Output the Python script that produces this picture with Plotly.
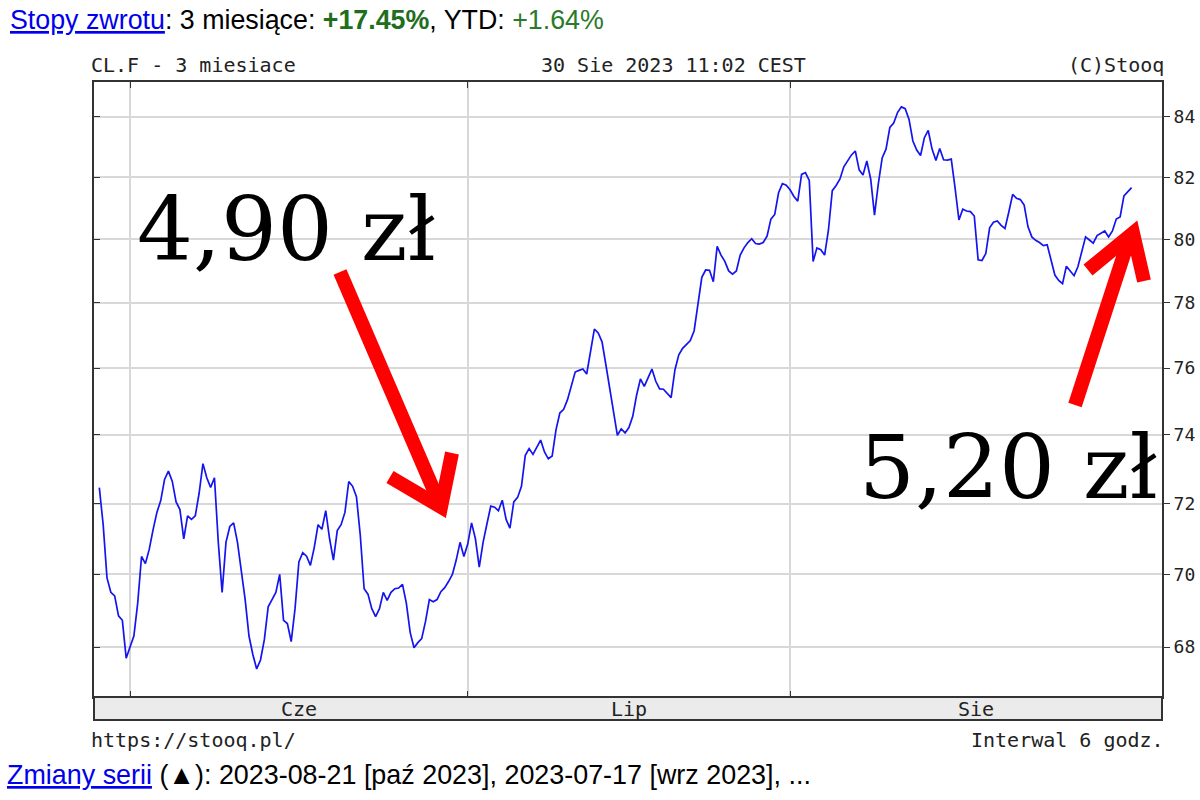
import math
import pandas as pd
import plotly.graph_objects as go

# ---------------- data (CL.F, 6-hour interval) ----------------
may_days = ["2023-05-30", "2023-05-31"]
may_vals = [
    [72.46, 71.4, 69.9, 69.5],
    [69.4, 68.85, 68.73, 67.7],
]
june_days = ["2023-06-01", "2023-06-02", "2023-06-05", "2023-06-06", "2023-06-07",
             "2023-06-08", "2023-06-09", "2023-06-12", "2023-06-13", "2023-06-14",
             "2023-06-15", "2023-06-16", "2023-06-19", "2023-06-20", "2023-06-21",
             "2023-06-22", "2023-06-23", "2023-06-26", "2023-06-27", "2023-06-28",
             "2023-06-29", "2023-06-30"]
june_vals = [
    [68.0, 68.3, 69.2, 70.5],
    [70.3, 70.7, 71.25, 71.75],
    [72.09, 72.7, 72.94, 72.65],
    [72.05, 71.83, 71.0, 71.65],
    [71.55, 71.65, 72.3, 73.16],
    [72.75, 72.47, 72.75, 70.9],
    [69.5, 70.9, 71.35, 71.45],
    [70.9, 70.1, 69.3, 68.3],
    [67.8, 67.41, 67.65, 68.2],
    [69.1, 69.3, 69.5, 70.0],
    [68.73, 68.64, 68.15, 69.05],
    [70.35, 70.61, 70.51, 70.25],
    [70.75, 71.4, 71.27, 71.8],
    [71.0, 70.4, 71.23, 71.4],
    [71.75, 72.64, 72.5, 72.2],
    [71.1, 69.6, 69.45, 69.05],
    [68.83, 69.05, 69.5, 69.28],
    [69.5, 69.6, 69.62, 69.72],
    [69.2, 68.4, 67.98, 68.12],
    [68.23, 68.7, 69.3, 69.24],
    [69.3, 69.52, 69.63, 69.8],
    [70.0, 70.4, 70.9, 70.5],
]
july_days = ["2023-07-03", "2023-07-04", "2023-07-05", "2023-07-06", "2023-07-07",
             "2023-07-10", "2023-07-11", "2023-07-12", "2023-07-13", "2023-07-14",
             "2023-07-17", "2023-07-18", "2023-07-19", "2023-07-20", "2023-07-21",
             "2023-07-24", "2023-07-25", "2023-07-26", "2023-07-27", "2023-07-28",
             "2023-07-31"]
july_vals = [
    [70.85, 71.45, 71.0, 70.2],
    [70.9, 71.42, 71.93, 71.9],
    [71.8, 72.1, 71.55, 71.3],
    [72.05, 72.18, 72.5, 73.4],
    [73.6, 73.43, 73.62, 73.85],
    [73.5, 73.3, 73.38, 74.15],
    [74.65, 74.76, 75.05, 75.45],
    [75.88, 75.93, 75.97, 75.82],
    [76.55, 77.19, 77.07, 76.8],
    [76.1, 75.38, 74.67, 73.99],
    [74.18, 74.06, 74.22, 74.55],
    [75.18, 75.67, 75.45, 75.7],
    [75.97, 75.6, 75.37, 75.36],
    [75.25, 75.11, 75.95, 76.4],
    [76.6, 76.72, 76.84, 77.14],
    [77.95, 78.8, 79.03, 79.02],
    [78.66, 79.78, 79.5, 79.3],
    [79.0, 78.9, 79.0, 79.5],
    [79.73, 79.9, 80.02, 79.87],
    [79.85, 79.9, 80.1, 80.65],
    [80.8, 81.5, 81.8, 81.75],
]
aug_days = ["2023-08-01", "2023-08-02", "2023-08-03", "2023-08-04", "2023-08-07",
            "2023-08-08", "2023-08-09", "2023-08-10", "2023-08-11", "2023-08-14",
            "2023-08-15", "2023-08-16", "2023-08-17", "2023-08-18", "2023-08-21",
            "2023-08-22", "2023-08-23", "2023-08-24", "2023-08-25", "2023-08-28",
            "2023-08-29", "2023-08-30", "2023-08-31"]
aug_vals = [
    [81.6, 81.38, 81.23, 82.1],
    [82.16, 81.9, 79.3, 79.73],
    [79.67, 79.5, 80.3, 81.57],
    [81.74, 81.95, 82.35, 82.55],
    [82.74, 82.87, 82.25, 82.08],
    [82.54, 81.95, 80.78, 81.8],
    [82.64, 82.93, 83.65, 83.8],
    [84.15, 84.34, 84.28, 83.92],
    [83.2, 82.9, 82.72, 83.31],
    [83.55, 82.93, 82.56, 82.95],
    [82.58, 82.57, 82.6, 81.65],
    [80.62, 80.97, 80.91, 80.89],
    [80.75, 79.35, 79.33, 79.55],
    [80.37, 80.55, 80.59, 80.45],
    [80.35, 80.88, 81.45, 81.32],
    [81.28, 81.1, 80.4, 80.08],
    [79.97, 79.9, 79.8, 79.83],
    [79.35, 78.87, 78.7, 78.6],
    [79.15, 78.98, 78.85, 79.13],
    [79.6, 80.08, 79.98, 79.88],
    [80.12, 80.2, 80.27, 80.08],
    [80.27, 80.65, 80.72, 81.4],
    [81.55, 81.67],
]

month_starts = ["2023-06-01", "2023-07-03", "2023-08-01"]
month_labels = ["Cze", "Lip", "Sie"]
y_ticks = [68, 70, 72, 74, 76, 78, 80, 82, 84]

# ---------------- build series ----------------
times, prices = [], []
for days, vals in [(may_days, may_vals), (june_days, june_vals),
                   (july_days, july_vals), (aug_days, aug_vals)]:
    for d, day_vals in zip(days, vals):
        for i, v in enumerate(day_vals):
            times.append(pd.Timestamp(d) + pd.Timedelta(hours=6 * i))
            prices.append(v)

# ---------------- geometry helpers (pixel -> paper) ----------------
L, R, T, B = 94, 1162, 82, 697
W, H = R - L, B - T


def px(x):
    return (x - L) / W


def py(y):
    return (B - y) / H


fig = go.Figure()
fig.add_trace(go.Scatter(x=times, y=prices, mode="lines",
                         line=dict(color="#1414f0", width=1.7),
                         hoverinfo="x+y", showlegend=False))
# invisible helper trace for left mirrored ticks
fig.add_trace(go.Scatter(x=[times[0]], y=[prices[0]], yaxis="y2", mode="markers",
                         marker=dict(opacity=0), hoverinfo="skip", showlegend=False))

grid = "#d8d8d8"
axis_col = "#333333"
mono = "DejaVu Sans Mono"

fig.update_layout(
    width=1200, height=800,
    margin=dict(l=L, r=1200 - R, t=T, b=800 - B, autoexpand=False),
    paper_bgcolor="white", plot_bgcolor="white",
    xaxis=dict(
        type="date", automargin=False,
        range=["2023-05-29 15:40", "2023-09-04 05:30"],
        rangebreaks=[dict(bounds=["sat", "mon"])],
        tickvals=month_starts,
        showticklabels=False,
        showgrid=True, gridcolor=grid, gridwidth=2,
        ticks="inside", ticklen=6, tickwidth=1, tickcolor=axis_col,
        showline=True, linecolor=axis_col, linewidth=2, mirror="ticks",
        zeroline=False,
    ),
    yaxis=dict(
        type="log", side="right", automargin=False,
        range=[math.log10(66.66), math.log10(85.18)],
        tickvals=y_ticks, ticktext=[str(t) for t in y_ticks],
        ticks="outside", ticklen=6, tickwidth=1, tickcolor=axis_col,
        tickfont=dict(family=mono, size=18, color="#222"),
        showgrid=True, gridcolor=grid, gridwidth=2,
        showline=True, linecolor=axis_col, linewidth=2, mirror=True,
        zeroline=False,
    ),
    yaxis2=dict(
        type="log", side="left", overlaying="y", automargin=False,
        range=[math.log10(66.66), math.log10(85.18)],
        tickvals=y_ticks, showticklabels=False,
        ticks="inside", ticklen=6, tickwidth=1, tickcolor=axis_col,
        showgrid=False, showline=False, zeroline=False,
    ),
)

shapes = []
# month band under the plot
shapes.append(dict(type="rect", xref="paper", yref="paper",
                   x0=0, x1=1, y0=py(720), y1=0,
                   fillcolor="#ebebeb", line=dict(color=axis_col, width=2), layer="above"))

red = "#ff0000"
# arrow 1 (pointing down-right)
shapes.append(dict(type="line", xref="paper", yref="paper",
                   x0=px(340), y0=py(272), x1=px(438), y1=py(500),
                   line=dict(color=red, width=14)))
shapes.append(dict(type="path", xref="paper", yref="paper",
                   path=f"M {px(390)},{py(477)} L {px(441)},{py(507)} L {px(452)},{py(453)}",
                   line=dict(color=red, width=14)))
# arrow 2 (pointing up-right)
shapes.append(dict(type="line", xref="paper", yref="paper",
                   x0=px(1075), y0=py(405), x1=px(1127), y1=py(245),
                   line=dict(color=red, width=14)))
shapes.append(dict(type="path", xref="paper", yref="paper",
                   path=f"M {px(1088)},{py(270)} L {px(1133)},{py(233)} L {px(1144)},{py(281)}",
                   line=dict(color=red, width=14)))
fig.update_layout(shapes=shapes)

ann = []


def text(x, y, s, size, family=mono, color="#222", xanchor="left"):
    ann.append(dict(x=px(x), y=py(y), xref="paper", yref="paper", text=s,
                    showarrow=False, xanchor=xanchor, yanchor="middle",
                    font=dict(family=family, size=size, color=color)))


text(89, 65, "CL.F - 3 miesiace", 20)
text(673, 65, "30 Sie 2023 11:02 CEST", 20, xanchor="center")
text(1166, 65, "(C)Stooq", 20, xanchor="right")
text(89, 740, "https://stooq.pl/", 20)
text(1166, 740, "Interwal 6 godz.", 20, xanchor="right")
month_centers = [299, 629, 976]
for mx, lab in zip(month_centers, month_labels):
    text(mx, 709, lab, 20, xanchor="center")

sans = "Liberation Sans"
top_line = ("<span style='color:#0000ee'><u>Stopy zwrotu</u></span>: 3 miesiące: "
            "<b><span style='color:#1d6e1d'>+17.45%</span></b>, YTD: "
            "<span style='color:#2a7a2a'>+1.64%</span>")
text(8, 20, top_line, 26.8, family=sans, color="#000")
bottom_line = ("<span style='color:#0000ee'><u>Zmiany serii</u></span> (▲): 2023-08-21 [paź 2023], "
               "2023-07-17 [wrz 2023], ...")
text(5, 775, bottom_line, 26.9, family=sans, color="#000")

serif = "DejaVu Serif"
text(286, 230, "4,90 zł", 88, family=serif, color="#000", xanchor="center")
text(1008, 467, "5,20 zł", 88, family=serif, color="#000", xanchor="center")

fig.update_layout(annotations=ann)
fig.write_html("out.html", config={"displayModeBar": False},
               post_script="document.body.style.margin='0px';document.body.style.padding='0px';")
